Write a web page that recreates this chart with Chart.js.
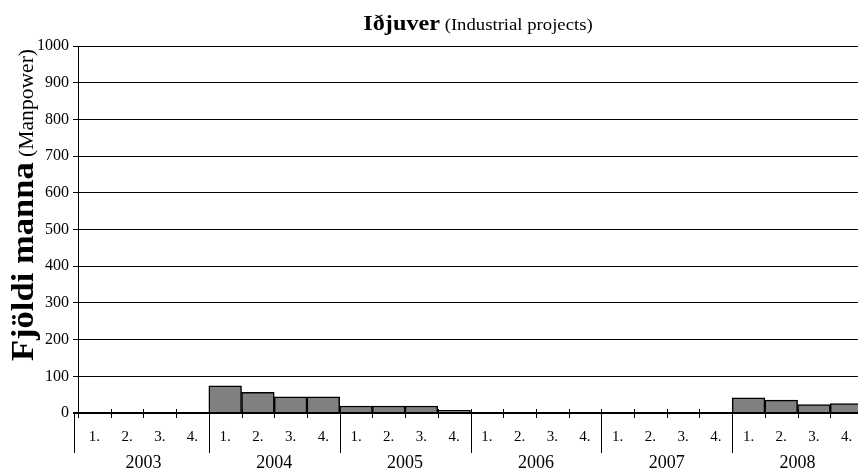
<!DOCTYPE html>
<html>
<head>
<meta charset="utf-8">
<script src="https://cdn.jsdelivr.net/npm/chart.js@4"></script>
<style>
  html, body { margin: 0; padding: 0; background: #fff; overflow: hidden; }
  #wrap { position: relative; width: 866px; height: 475px; }
</style>
</head>
<body>
<div id="wrap"><canvas id="chart"></canvas></div>
<script>
const years = ["2003", "2004", "2005", "2006", "2007", "2008"];
const quarters = ["1.", "2.", "3.", "4."];
// one value per quarter, 2003 Q1 .. 2008 Q4
const manpower = [
  0, 0, 0, 0,
  74, 56, 44, 44,
  19, 19, 19, 7,
  0, 0, 0, 0,
  0, 0, 0, 0,
  41, 35, 23, 26
];
const yMin = 0;
const yMax = 1000;
const yStep = 100;

const SERIF = "'Liberation Serif', 'Times New Roman', serif";
const categories = years.flatMap((y) => quarters.map((q) => `${y} ${q}`));

function drawParts(ctx, parts, cx, cy, angle, stretch) {
  ctx.save();
  ctx.translate(cx, cy);
  ctx.rotate(angle);
  ctx.scale(stretch, 1);
  let total = 0;
  parts.forEach((p) => {
    ctx.font = p.font;
    p.w = ctx.measureText(p.text).width;
    total += p.w;
  });
  let x = -total / 2;
  ctx.textAlign = "left";
  ctx.textBaseline = "alphabetic";
  ctx.fillStyle = "#000";
  parts.forEach((p) => {
    ctx.font = p.font;
    ctx.fillText(p.text, x, 0);
    x += p.w;
  });
  ctx.restore();
}

const labelsPlugin = {
  id: "labels",
  afterDraw(chart) {
    const { ctx, scales } = chart;
    const xs = scales.x;
    const zeroY = scales.y.getPixelForValue(0);
    const n = categories.length;
    const step = xs.getPixelForValue(1) - xs.getPixelForValue(0);

    ctx.save();
    ctx.strokeStyle = "#000";
    ctx.lineWidth = 1;
    for (let i = 0; i <= n; i++) {
      const bx = Math.round(xs.getPixelForValue(0) + (i - 0.5) * step) + 0.5;
      ctx.beginPath();
      ctx.moveTo(bx, zeroY - 4);
      ctx.lineTo(bx, zeroY + 5);
      ctx.stroke();
      if (i % quarters.length === 0) {
        // the first group line sits a little left of the value axis
        const sx = i === 0 ? bx - 4 : bx;
        ctx.beginPath();
        ctx.moveTo(sx, zeroY);
        ctx.lineTo(sx, zeroY + 40);
        ctx.stroke();
      }
    }

    ctx.fillStyle = "#000";
    ctx.textAlign = "center";
    ctx.textBaseline = "middle";
    ctx.font = `15px ${SERIF}`;
    categories.forEach((c, i) => {
      ctx.fillText(quarters[i % quarters.length], xs.getPixelForValue(i), zeroY + 24);
    });
    ctx.font = `18px ${SERIF}`;
    years.forEach((y, g) => {
      const a = xs.getPixelForValue(g * quarters.length);
      const b = xs.getPixelForValue(g * quarters.length + quarters.length - 1);
      ctx.fillText(y, (a + b) / 2, zeroY + 50);
    });
    ctx.restore();

    drawParts(ctx, [
      { text: "Iðjuver", font: `bold 22px ${SERIF}` },
      { text: " (Industrial projects)", font: `17px ${SERIF}` }
    ], 478, 30, 0, 1.1);

    drawParts(ctx, [
      { text: "Fjöldi manna", font: `bold 32px ${SERIF}` },
      { text: " (Manpower)", font: `20px ${SERIF}` }
    ], 33, 205, -Math.PI / 2, 1.08);
  }
};

new Chart(document.getElementById("chart"), {
  type: "bar",
  data: {
    labels: categories,
    datasets: [
      {
        data: manpower,
        backgroundColor: "#808080",
        borderColor: "#000",
        borderWidth: 1.5,
        barPercentage: 1,
        categoryPercentage: 1
      }
    ]
  },
  options: {
    responsive: true,
    maintainAspectRatio: false,
    animation: false,
    layout: { padding: { top: 46, right: 3, bottom: 0, left: 0 } },
    plugins: {
      legend: { display: false },
      title: { display: false },
      tooltip: { enabled: false }
    },
    scales: {
      x: {
        ticks: { display: false },
        grid: { display: false },
        border: { display: false },
        afterFit: (scale) => { scale.height = 62; }
      },
      y: {
        min: yMin,
        max: yMax,
        ticks: {
          stepSize: yStep,
          padding: 4,
          color: "#000",
          font: { family: SERIF, size: 16 },
          callback: (value) => String(value)
        },
        grid: {
          color: "#000",
          tickColor: "#000",
          tickLength: 5,
          lineWidth: (ctx) => (ctx.tick && ctx.tick.value === 0 ? 2 : 1)
        },
        border: { display: true, color: "#000", width: 1 },
        afterFit: (scale) => { scale.width = 78; }
      }
    }
  },
  plugins: [labelsPlugin]
});
</script>
</body>
</html>
